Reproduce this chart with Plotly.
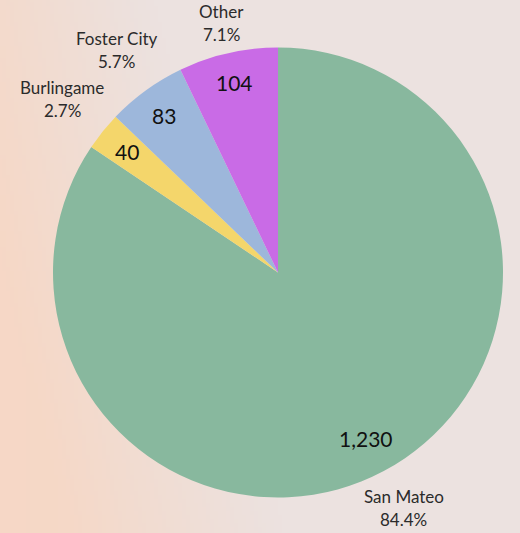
import base64
import struct
import zlib

import numpy as np
import plotly.graph_objects as go

# ---- data ----
cities = ["San Mateo", "Burlingame", "Foster City", "Other"]
counts = [1230, 40, 83, 104]
colors = ["#88b89e", "#f4d66b", "#9db7db", "#c96be6"]

W, H = 520, 533
CX, CY, R = 278.0, 272.5, 225.0  # pie centre / radius in px (layout)


# ---- soft pastel background (generated PNG) ----
def make_bg(w=130, h=133):
    xs = np.linspace(0, 1, w)[None, :]
    ys = np.linspace(0, 1, h)[:, None]
    base = np.array([236, 226, 224], dtype=float)
    peach = np.array([247, 215, 196], dtype=float)
    t = np.clip(1.0 - xs * 2.4 + (ys - 0.5) * 0.6, 0, 1) * 0.85
    t = np.clip(t + np.clip(0.25 - xs, 0, 1) * 0.3, 0, 1)
    img = base[None, None, :] * (1 - t[..., None]) + peach[None, None, :] * t[..., None]
    img = np.clip(img, 0, 255).astype(np.uint8)
    raw = b"".join(b"\x00" + img[r].tobytes() for r in range(h))

    def chunk(tag, data):
        c = struct.pack(">I", len(data)) + tag + data
        return c + struct.pack(">I", zlib.crc32(tag + data) & 0xFFFFFFFF)

    png = b"\x89PNG\r\n\x1a\n"
    png += chunk(b"IHDR", struct.pack(">IIBBBBB", w, h, 8, 2, 0, 0, 0))
    png += chunk(b"IDAT", zlib.compress(raw, 9))
    png += chunk(b"IEND", b"")
    return "data:image/png;base64," + base64.b64encode(png).decode()


domain = dict(x=[(CX - R) / W, (CX + R) / W], y=[(H - CY - R) / H, (H - CY + R) / H])

fig = go.Figure()

# coloured slices
fig.add_trace(go.Pie(
    labels=cities,
    values=counts,
    sort=False,
    direction="clockwise",
    rotation=0,
    marker=dict(colors=colors, line=dict(width=0)),
    textinfo="none",
    domain=domain,
    showlegend=False,
    hoverinfo="label+value+percent",
))

# labels placed along each slice's mid-angle (values near the rim inside,
# name / percent just outside)
total = float(sum(counts))
annotations = []
cum = 0.0
for name, v in zip(cities, counts):
    mid = (cum + v / 2.0) / total * 2 * np.pi  # clockwise from 12 o'clock
    cum += v
    dx, dy = np.sin(mid), -np.cos(mid)

    # value label inside, its outer edge ~15px from the rim
    vtxt = f"{v:,}"
    vw = 12.2 * sum(1 for c in vtxt if c.isdigit()) + 5 * vtxt.count(",")
    vh = 22.0
    vd = R - 15 - (abs(dx) * vw / 2 + abs(dy) * vh / 2)
    annotations.append(dict(
        x=(CX + dx * vd) / W, y=1 - (CY + dy * vd) / H, xref="paper", yref="paper",
        text=vtxt, showarrow=False, xanchor="center", yanchor="middle",
        font=dict(family="Lato", size=21, color="#111111"),
    ))

    # name / percent outside
    pct = f"{v / total * 100:.1f}%"
    bw = 8.2 * max(len(name), len(pct))
    bh = 36.0
    dist = R + 9 + abs(dx) * bw / 2 + abs(dy) * bh / 2
    px, py = CX + dx * dist, CY + dy * dist
    for txt, off in ((name, -11.5), (pct, 11.5)):
        annotations.append(dict(
            x=px / W, y=1 - (py + off) / H, xref="paper", yref="paper",
            text=txt, showarrow=False, xanchor="center", yanchor="middle",
            font=dict(family="Lato", size=17, color="#2b2b2b"),
        ))

fig.update_layout(
    width=W,
    height=H,
    margin=dict(l=0, r=0, t=0, b=0, autoexpand=False),
    paper_bgcolor="#ece2e0",
    plot_bgcolor="rgba(0,0,0,0)",
    font=dict(family="Lato"),
    annotations=annotations,
    images=[dict(
        source=make_bg(),
        xref="paper", yref="paper",
        x=0, y=1, sizex=1, sizey=1,
        sizing="stretch", layer="below",
        xanchor="left", yanchor="top",
    )],
)

fig.write_html(
    "out.html",
    config={"displayModeBar": False},
    post_script="document.body.style.margin='0px';document.body.style.overflow='hidden';",
)
